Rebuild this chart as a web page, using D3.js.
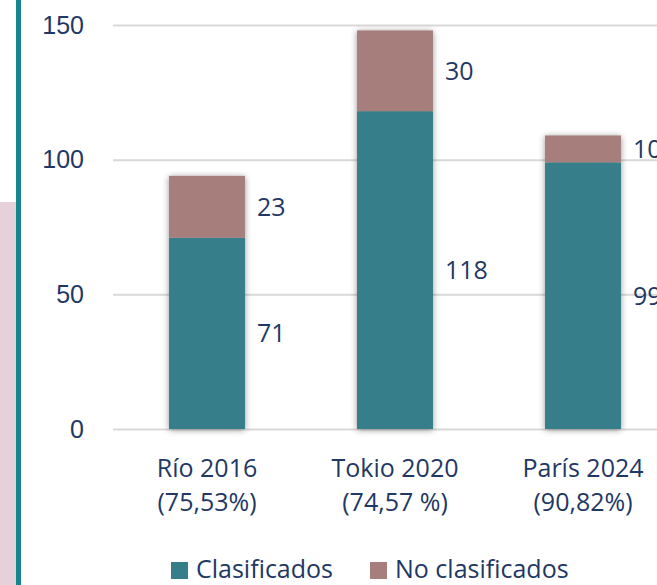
<!DOCTYPE html>
<html>
<meta charset="utf-8">
<style>
body {
  margin: 0;
  background: #fff;
  font-family: 'Open Sans', 'Noto Sans', sans-serif;
}
svg text {
  fill: #1f3864;
  font-size: 25px;
}
</style>
<body>
<script src="https://cdn.jsdelivr.net/npm/d3@7"></script>
<script>
// data
var games = ["Río 2016", "Tokio 2020", "París 2024"];
var shares = ["(75,53%)", "(74,57 %)", "(90,82%)"];
var clasificados = [71, 118, 99];
var noClasificados = [23, 30, 10];
var seriesNames = ["Clasificados", "No clasificados"];
var yTicks = [0, 50, 100, 150];

var w = 657;
var h = 585;

var rows = games.map(function(g, i) {
  return { game: g, share: shares[i], "Clasificados": clasificados[i], "No clasificados": noClasificados[i] };
});

var stack = d3.stack().keys(seriesNames)(rows);

var color = d3.scaleOrdinal()
    .domain(seriesNames)
    .range(["#367e8a", "#a67f7d"]);

// plot runs off the right edge, like the original slide crop
var x = d3.scaleBand()
    .domain(games)
    .range([113, 677])
    .paddingInner(0.596)
    .paddingOuter(0.298);

var y = d3.scaleLinear()
    .domain([0, 150])
    .range([429, 25]);

var svg = d3.select("body")
    .append("svg")
    .attr("width", w)
    .attr("height", h);

var defs = svg.append("defs");
var shadow = defs.append("filter")
    .attr("id", "shadow")
    .attr("x", "-30%").attr("y", "-10%")
    .attr("width", "160%").attr("height", "120%");
shadow.append("feDropShadow")
    .attr("dx", 0)
    .attr("dy", 1)
    .attr("stdDeviation", 3)
    .attr("flood-color", "#000")
    .attr("flood-opacity", 0.42);

// slide decoration on the left
svg.append("rect")
    .attr("x", 0).attr("y", 202)
    .attr("width", 16).attr("height", h - 202)
    .attr("fill", "#e6d1db");
svg.append("rect")
    .attr("x", 16).attr("y", 0)
    .attr("width", 5).attr("height", h)
    .attr("fill", "#15868f");

// y axis: gridlines + labels
var yAxis = d3.axisLeft(y)
    .tickValues(yTicks)
    .tickSize(-(w - 113))
    .tickPadding(29);

svg.append("g")
    .attr("class", "axis")
    .attr("transform", "translate(113,0)")
    .call(yAxis)
    .call(function(g) {
      g.select(".domain").remove();
      g.selectAll(".tick line").attr("stroke", "#d9d9d9").attr("stroke-width", 2);
      g.selectAll(".tick text")
        .attr("font-family", null)
        .attr("font-size", null)
        .attr("fill", null);
    });

// stacked bars
var bars = svg.selectAll(".bar")
    .data(games)
    .enter()
    .append("g")
    .attr("class", "bar")
    .attr("filter", "url(#shadow)");

bars.selectAll("rect")
    .data(function(g, i) {
      return stack.map(function(s) { return { key: s.key, v: s[i], game: g }; });
    })
    .enter()
    .append("rect")
    .attr("x", function(d) { return x(d.game); })
    .attr("width", x.bandwidth())
    .attr("y", function(d) { return y(d.v[1]); })
    .attr("height", function(d) { return y(d.v[0]) - y(d.v[1]); })
    .attr("fill", function(d) { return color(d.key); });

// value labels, right of each segment (cut at the right edge as in the source)
stack.forEach(function(s) {
  svg.selectAll(".lbl-" + s.index)
      .data(s)
      .enter()
      .append("text")
      .attr("class", "lbl-" + s.index)
      .attr("x", function(d) { return x(d.data.game) + x.bandwidth() + 12; })
      .attr("y", function(d) { return y((d[0] + d[1]) / 2); })
      .attr("dy", "0.36em")
      .text(function(d) { return d[1] - d[0]; });
});

// category labels, two lines
var cats = svg.selectAll(".cat")
    .data(rows)
    .enter()
    .append("text")
    .attr("class", "cat")
    .attr("text-anchor", "middle");
cats.append("tspan")
    .attr("x", function(d) { return x(d.game) + x.bandwidth() / 2; })
    .attr("y", 477)
    .text(function(d) { return d.game; });
cats.append("tspan")
    .attr("x", function(d) { return x(d.game) + x.bandwidth() / 2; })
    .attr("y", 511)
    .text(function(d) { return d.share; });

// legend
var lx = 171;
seriesNames.forEach(function(name) {
  svg.append("rect")
      .attr("x", lx).attr("y", 562)
      .attr("width", 17).attr("height", 17)
      .attr("fill", color(name));
  var t = svg.append("text")
      .attr("x", lx + 25)
      .attr("y", 578)
      .text(name);
  lx += 25 + t.node().getComputedTextLength() + 37;
});
</script>
</body>
</html>
